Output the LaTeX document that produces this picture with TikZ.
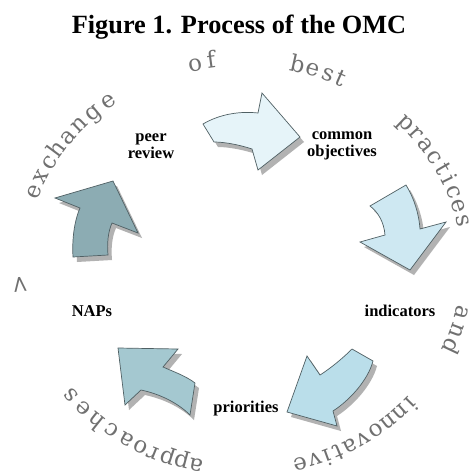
\documentclass[tikz,border=0pt]{standalone}
\usepackage{fontspec}
\setmainfont{Liberation Serif}
\newfontfamily\circfont{DejaVu Serif}
\definecolor{circgray}{RGB}{112,112,112}
\definecolor{arrowedge}{RGB}{80,96,100}
\definecolor{shadowgray}{RGB}{178,178,178}
\definecolor{fillA}{RGB}{230,244,249}
\definecolor{fillB}{RGB}{206,232,242}
\definecolor{fillC}{RGB}{186,222,234}
\definecolor{fillD}{RGB}{164,200,208}
\definecolor{fillE}{RGB}{140,172,179}
\newcommand\omcarrow[2]{%
  \fill[shadowgray, shift={(4,5)}] #2;
  \filldraw[arrowline, fill=#1] #2;
}
\begin{document}
\begin{tikzpicture}[x=1pt,y=-1pt,
  lbl/.style={font=\fontsize{16.5}{17}\selectfont\bfseries, align=center, inner sep=0pt},
  circ/.style={font=\circfont\fontsize{23}{23}\selectfont, text=circgray, inner sep=0pt, text height=12pt, text depth=0pt, anchor=center},
  arrowline/.style={draw=arrowedge, line width=0.7pt, line join=miter}]
\useasboundingbox (0,0) rectangle (476,471);
\fill[white] (0,0) rectangle (476,471);

% title
\node[font=\fontsize{26.3}{28}\selectfont\bfseries, anchor=base, inner sep=0pt] (title) at (239,33) {Figure 1. Process of the OMC};

% circular text
\foreach \ch/\ang [count=\i] in {>/185.6, e/159.1, x/154.7, c/150.2, h/145.9, a/141.5, n/137.1, g/132.3, e/127.0, o/102.6, f/98.4, b/76.3, e/72.1, s/68.0, t/64.5, p/43.8, r/39.8, a/35.8, c/31.8, t/27.9, i/24.5, c/20.8, e/16.6, s/12.4, a/-13.5, n/-18.5, d/-23.3, i/-42, n/-45.8, n/-49.8, o/-53.8, v/-57.8, a/-61.7, t/-65.2, i/-68.2, v/-71.6, e/-75.5, a/-102.4, p/-106.2, p/-110, r/-113.8, o/-117.6, a/-121.7, c/-126.3, h/-131, e/-135.8, s/-140.5}{
  \pgfmathsetmacro\rot{atan2(-205*cos(\ang),224*sin(\ang))}
  \node[circ, rotate=\rot] (L\i) at ({244+224*cos(\ang)},{265-205*sin(\ang)}) {\ch};
}

% arrows
\omcarrow{fillA}{(203,124) .. controls (220,114) and (240,111) .. (258,113) -- (262,93) -- (300,137) -- (258,170) -- (252,149) .. controls (240,145) and (225,142) .. (214,142) -- cycle}
\omcarrow{fillB}{(406,185) -- (370,206) .. controls (378,212) and (384,222) .. (385,235) -- (360,242) -- (410,270) -- (446,222) -- (420,229) .. controls (419,214) and (414,198) .. (406,185) -- cycle}
\omcarrow{fillC}{(352,349) -- (373,361) .. controls (368,380) and (350,400) .. (333,411) -- (337,426) -- (287,412) -- (307,356) -- (320,375) .. controls (331,368) and (343,358) .. (352,349) -- cycle}
\omcarrow{fillD}{(118,348) -- (178,349) -- (163,367) .. controls (172,371) and (186,376) .. (195,383) -- (190,415) .. controls (178,403) and (160,394) .. (141,390) -- (125,405) -- cycle}
\omcarrow{fillE}{(55,198) -- (113,181) -- (138,233) -- (112,223) .. controls (108,232) and (107,243) .. (108,255) -- (73,257) .. controls (72,240) and (74,222) .. (80,208) -- cycle}

% labels
\node[lbl] (peer) at (151,146) {peer\\review};
\node[lbl] (common) at (342,146) {common\\objectives};
\node[lbl] (indicators) at (400,311) {indicators};
\node[lbl] (naps) at (92,311) {NAPs};
\node[lbl] (priorities) at (246,409) {priorities};
\end{tikzpicture}
\end{document}
